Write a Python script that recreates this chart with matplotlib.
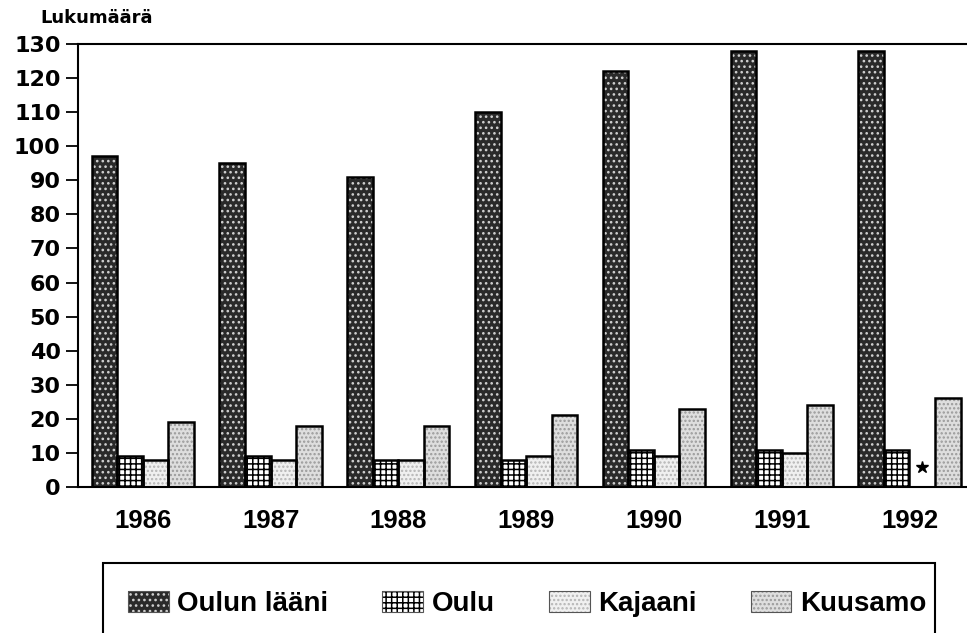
import matplotlib
matplotlib.use("Agg")
import matplotlib.pyplot as plt
from matplotlib.patches import Patch, Rectangle
from matplotlib.legend_handler import HandlerTuple
import numpy as np

years = ["1986", "1987", "1988", "1989", "1990", "1991", "1992"]
oulun_laani = [97, 95, 91, 110, 122, 128, 128]
oulu = [9, 9, 8, 8, 11, 11, 11]
kajaani = [8, 8, 8, 9, 9, 10, np.nan]
kuusamo = [19, 18, 18, 21, 23, 24, 26]
series_names = ["Oulun lääni", "Oulu", "Kajaani", "Kuusamo"]
yticks = list(range(0, 140, 10))

plt.rcParams['font.family'] = ['Liberation Sans', 'DejaVu Sans']
plt.rcParams['font.weight'] = 'bold'
plt.rcParams['hatch.linewidth'] = 1.1

# face colour, hatch colour, hatch pattern for each series
styles = [
    ("#2a2a2a", "#d0d0d0", "..."),
    ("white", "black", "+++"),
    ("#f0f0f0", "#b5b5b5", "...."),
    ("#dedede", "#9a9a9a", "...."),
]

fig = plt.figure(figsize=(9.67, 6.33), dpi=100)
ax = fig.add_axes([78 / 967, 1 - 487 / 633, 1 - 78 / 967, (487 - 44) / 633])

x = np.arange(len(years))
w = 0.2
data = [oulun_laani, oulu, kajaani, kuusamo]
handles = []
for i, (vals, (fc, hc, hatch)) in enumerate(zip(data, styles)):
    pos = x + (i - 1.5) * w
    ax.bar(pos, vals, w, color=fc, edgecolor=hc, hatch=hatch, linewidth=0, zorder=2)
    ax.bar(pos, vals, w, fill=False, edgecolor="black", linewidth=1.8, zorder=3)
    handles.append((Patch(facecolor=fc, edgecolor=hc, hatch=hatch, linewidth=0),
                    Patch(fill=False, edgecolor="#555555", linewidth=0.8)))

# missing Kajaani value for 1992
ax.plot(6 + 0.5 * w, 6, marker="*", color="black", markersize=9, zorder=4)

ax.set_xlim(-0.507, 6.45)
ax.set_ylim(0, 130)
ax.set_yticks(yticks)
ax.set_yticklabels([str(t) for t in yticks], fontsize=16, fontweight="bold",
                   family="DejaVu Sans")
ax.set_xticks(x)
ax.set_xticklabels(years, fontsize=18.5, fontweight="bold")
ax.tick_params(axis="y", length=8.5, width=1.3, pad=4, direction="out")
ax.tick_params(axis="x", length=0, pad=16)
ax.spines["right"].set_visible(False)
for s in ["left", "top", "bottom"]:
    ax.spines[s].set_linewidth(1.5)

fig.text(40 / 967, 1 - 18 / 633, "Lukumäärä", fontsize=13, fontweight="bold",
         family="DejaVu Sans", ha="left", va="center")

# legend box runs off the bottom of the figure
fig.patches.append(Rectangle((103 / 967, -0.05), (935 - 103) / 967, 0.05 + 1 - 563 / 633,
                             transform=fig.transFigure, fill=False,
                             edgecolor="black", linewidth=1.5))
fig.legend(handles, series_names, loc="center", ncol=4,
           bbox_to_anchor=(527 / 967, 1 - 604 / 633), frameon=False,
           handler_map={tuple: HandlerTuple(ndivide=1, pad=0)},
           prop={"size": 20, "weight": "bold"}, handlelength=1.47,
           handleheight=0.8, handletextpad=0.3, columnspacing=1.95)

fig.savefig("out.png", dpi=100)
